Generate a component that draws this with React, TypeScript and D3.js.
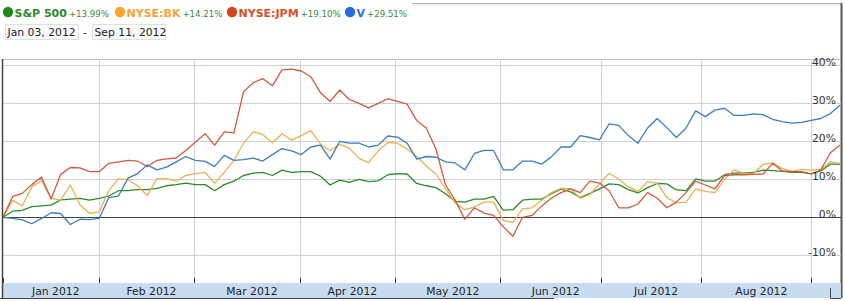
import React from "react";
import * as d3 from "d3";

// ---- data (percent change since Jan 03, 2012), sampled every ~2 trading days ----
const sp500 = [0,1.6,1.8,2.8,3.0,3.2,4.6,4.8,5.0,4.5,5.0,5.6,7.0,7.0,7.3,7.3,7.6,8.3,8.6,9.0,8.6,8.6,7.0,8.6,9.5,11.0,11.6,11.8,11.0,12.4,11.8,12.0,12.0,10.8,8.5,9.8,9.2,10.0,9.4,9.6,11.2,11.5,11.4,8.9,8.3,7.8,6.2,4.2,4.0,4.8,4.8,5.5,1.9,2.0,4.5,4.8,4.8,6.2,7.4,6.7,5.2,6.3,7.5,8.8,8.6,7.3,6.4,7.8,8.9,8.8,7.2,7.0,10.1,9.5,9.5,11.2,11.6,11.7,11.8,12.4,12.3,12.1,11.8,11.8,11.4,12.2,14.0,14.0];
const nyseBK = [0,4.5,3.0,8.0,9.6,5.0,4.5,8.5,3.3,1.0,1.4,7.0,10.1,9.9,8.3,5.7,10.2,10.2,9.5,11.0,11.5,11.8,9.0,11.8,15.0,19.5,22.5,21.8,19.6,22.0,20.3,21.5,22.8,19.3,17.5,19.2,18.2,15.5,14.4,17.5,19.7,19.5,18.0,16.0,13.5,11.4,7.5,3.8,2.0,2.7,4.0,4.0,-0.8,-1.4,2.2,2.5,4.5,6.5,7.6,7.5,5.0,6.0,8.8,11.6,10.0,8.0,6.8,9.4,9.0,5.2,3.8,4.0,7.5,6.8,6.5,10.0,12.5,11.6,11.5,13.9,14.3,12.8,12.1,12.6,12.4,12.6,14.6,14.2];
const nyseJPM = [0,5.5,6.3,8.6,10.6,4.8,11.3,13.1,13.0,12.0,12.0,14.2,14.6,15.0,14.8,13.3,15.0,15.4,15.6,17.6,19.8,22.0,19.0,22.5,22.2,33.0,35.4,36.5,34.6,38.8,39.0,38.5,37.0,32.8,30.5,33.5,31.0,30.0,28.8,30.0,31.2,30.5,29.8,25.5,23.5,18.0,8.5,4.5,-0.5,2.5,1.1,0.5,-2.5,-5.0,0.0,0.5,3.0,5.0,6.5,7.5,6.5,9.5,9.0,7.0,2.5,2.5,3.5,6.5,5.0,2.5,4.0,6.5,9.5,8.5,7.5,11.0,11.2,11.2,11.3,11.4,14.2,12.2,12.0,12.0,11.4,12.5,17.0,19.0];
const visaV = [0,-0.3,-0.7,-1.7,-0.3,1.2,1.0,-1.9,-0.5,-0.6,-0.3,5.2,5.6,10.3,11.5,13.8,12.5,13.2,14.6,16.0,15.0,14.7,13.4,16.3,15.0,15.2,15.6,14.8,16.5,18.1,17.5,16.5,18.5,19.0,15.3,20.0,19.5,19.5,18.5,19.0,21.4,21.1,19.5,15.3,16.0,15.8,14.6,14.3,12.5,16.8,17.6,17.6,12.5,12.5,14.8,14.8,14.0,15.9,18.5,18.5,21.5,21.0,20.4,24.6,24.2,21.5,19.5,23.5,26.0,23.6,21.0,23.5,28.0,26.5,28.2,28.7,26.8,26.8,27.2,27.0,25.8,25.2,24.8,25.0,25.5,26.0,27.3,29.5];

const seriesNames = ["S&P 500", "NYSE:BK", "NYSE:JPM", "V"];
const seriesChanges = ["+13.99%", "+14.21%", "+19.10%", "+29.51%"];
const seriesValues = [sp500, nyseBK, nyseJPM, visaV];

const monthLabels = ["Jan 2012", "Feb 2012", "Mar 2012", "Apr 2012", "May 2012", "Jun 2012", "Jul 2012", "Aug 2012", ""];
const monthStartDay = [0, 20, 40, 62, 82, 104, 125, 146, 169]; // trading-day index of first session
const lastTradingDay = 175;
const yTicks = [-10, 0, 10, 20, 30, 40];
const dateFrom = "Jan 03, 2012";
const dateTo = "Sep 11, 2012";

// ---- styles ----
const lineColors = ["#2f8a2a", "#ebb152", "#cf5a3f", "#3d7cc2"];
const dotColors = ["#1d8a1d", "#f7a72a", "#d6461e", "#2a6ed6"];
const nameColors = ["#2a8a2a", "#f2a63a", "#d4502e", "#2e6fcf"];
const legendX = [2, 114, 226, 344];

export default function App() {
  const W = 845, H = 301;
  const left = 3, right = 841;
  const plotTop = 59, axisTop = 283, axisBottom = 298;

  const xDay = d3.scaleLinear().domain([0, lastTradingDay]).range([3, 840]);
  const n = sp500.length;
  const xIdx = d3.scaleLinear().domain([0, n - 1]).range([xDay(0), xDay(lastTradingDay)]);
  const y = d3.scaleLinear().domain([-10, 40]).range([255.3, 65.3]);

  const line = d3.line<number>().x((_, i) => xIdx(i)).y((v) => y(v)).curve(d3.curveLinear);

  const font = "'DejaVu Sans', Verdana, sans-serif";

  return (
    <svg width={W} height={H} style={{ position: "absolute", left: 0, top: 0, background: "#fff" }} xmlns="http://www.w3.org/2000/svg">
      <rect x={0} y={0} width={W} height={H} fill="#fff" />
      {/* outer frame (tab) */}
      <line x1={412} x2={right} y1={3.5} y2={3.5} stroke="#b8b8b8" />
      <line x1={412} x2={right} y1={5} y2={5} stroke="#e2e2e2" />
      <line x1={right + 0.5} x2={right + 0.5} y1={3} y2={axisBottom} stroke="#555" strokeWidth={2} />

      {/* legend */}
      {seriesNames.map((name, k) => {
        const x0 = legendX[k];
        return (
          <g key={name}>
            <circle cx={x0 + 6} cy={12} r={5.2} fill={dotColors[k]} />
            <text x={x0 + 12.5} y={16.5} fontFamily={font} fontWeight="bold" fontSize={11} fill={nameColors[k]}>
              {name}
              <tspan dx={2} fontWeight="normal" fontSize={8.6} fill="#3a8a3a">{seriesChanges[k]}</tspan>
            </text>
          </g>
        );
      })}

      {/* date range */}
      <rect x={5.5} y={24.5} width={73} height={15} fill="#fbfbfb" stroke="#e0e0e0" />
      <text x={7.5} y={36} fontFamily={font} fontSize={10.8} fill="#222">{dateFrom}</text>
      <text x={83} y={36} fontFamily={font} fontSize={10.8} fill="#222">-</text>
      <rect x={92.5} y={24.5} width={73} height={15} fill="#fbfbfb" stroke="#e0e0e0" />
      <text x={94.5} y={36} fontFamily={font} fontSize={10.8} fill="#222">{dateTo}</text>

      {/* plot top border */}
      <line x1={left} x2={right} y1={plotTop + 0.5} y2={plotTop + 0.5} stroke="#bdbdc6" />

      {/* horizontal gridlines */}
      {yTicks.filter((t) => t !== 0).map((t) => (
        <line key={t} x1={left} x2={right} y1={Math.round(y(t)) + 0.5} y2={Math.round(y(t)) + 0.5} stroke="#cfd0de" />
      ))}
      {/* vertical month gridlines */}
      {monthStartDay.slice(1).map((d) => (
        <line key={d} x1={Math.round(xDay(d)) + 0.5} x2={Math.round(xDay(d)) + 0.5} y1={plotTop} y2={axisTop} stroke="#cfd0de" />
      ))}

      {/* zero line */}
      <line x1={left} x2={right} y1={Math.round(y(0)) + 0.5} y2={Math.round(y(0)) + 0.5} stroke="#444" />

      {/* series */}
      {seriesValues.map((vals, k) => (
        <path key={k} d={line(vals) || ""} fill="none" stroke={lineColors[k]} strokeWidth={1.3} strokeLinejoin="round" />
      ))}

      {/* y labels */}
      {yTicks.map((t) => (
        <text key={t} x={836} y={y(t) + 1} textAnchor="end" fontFamily={font} fontSize={10.8} fill="#333">
          {t + "%"}
        </text>
      ))}

      {/* x axis bar */}
      <rect x={left} y={axisTop} width={right - left} height={axisBottom - axisTop} fill="#c8dcf1" />
      {monthStartDay.map((d) => (
        <line key={"t" + d} x1={Math.round(xDay(d)) + 0.5} x2={Math.round(xDay(d)) + 0.5} y1={278} y2={axisTop} stroke="#333" />
      ))}
      {monthLabels.map((lab, k) =>
        lab ? (
          <text
            key={lab}
            x={(xDay(monthStartDay[k]) + xDay(monthStartDay[k + 1])) / 2 + 5}
            y={294.5}
            textAnchor="middle"
            fontFamily={font}
            fontSize={10.8}
            fill="#222"
          >
            {lab}
          </text>
        ) : null
      )}

      {/* left border and bottom edge */}
      <line x1={2.5} x2={2.5} y1={plotTop} y2={axisBottom + 1} stroke="#444" strokeWidth={1.5} />
      <line x1={0} x2={554} y1={298.5} y2={298.5} stroke="#444" />
      <path d="M 830.5 288 V 298.5 H 841" fill="none" stroke="#444" />
    </svg>
  );
}
